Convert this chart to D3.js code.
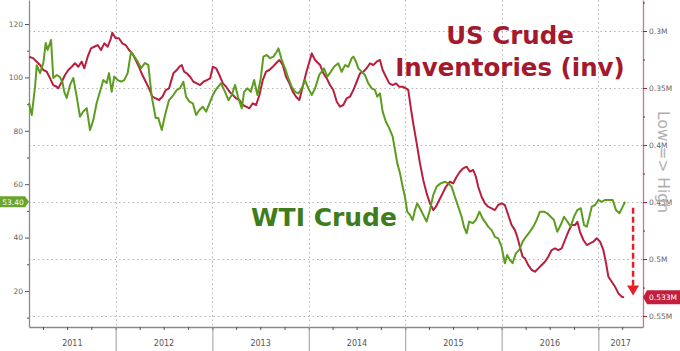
<!DOCTYPE html>
<html>
<head>
<meta charset="utf-8">
<script src="https://cdn.jsdelivr.net/npm/d3@7"></script>
<style>
  body { margin: 0; background: #fff; }
  svg { display: block; }
  text { font-family: "DejaVu Sans", sans-serif; }
</style>
</head>
<body>
<div id="chart"></div>
<script>
// WTI crude price (left axis), time as fractional year
var wtiTimes = [
  2011.102, 2011.130, 2011.164, 2011.182, 2011.216, 2011.250, 2011.275, 2011.295, 2011.330, 2011.353,
  2011.389, 2011.423, 2011.447, 2011.467, 2011.492, 2011.527, 2011.561, 2011.596, 2011.630, 2011.664,
  2011.700, 2011.734, 2011.768, 2011.803, 2011.837, 2011.872, 2011.907, 2011.931, 2011.959, 2011.985,
  2012.021, 2012.055, 2012.089, 2012.124, 2012.159, 2012.193, 2012.228, 2012.262, 2012.304, 2012.338,
  2012.373, 2012.414, 2012.441, 2012.477, 2012.511, 2012.552, 2012.597, 2012.632, 2012.666, 2012.700,
  2012.728, 2012.763, 2012.798, 2012.832, 2012.866, 2012.901, 2012.936, 2012.970,
  2013.005, 2013.046, 2013.088, 2013.132, 2013.167, 2013.202, 2013.236, 2013.270, 2013.305, 2013.329,
  2013.363, 2013.399, 2013.433, 2013.467, 2013.502, 2013.529, 2013.564, 2013.599, 2013.633, 2013.668,
  2013.685, 2013.720, 2013.754, 2013.788, 2013.823, 2013.858, 2013.892, 2013.927, 2013.961, 2013.995,
  2014.031, 2014.065, 2014.109, 2014.158, 2014.192, 2014.228, 2014.262, 2014.306, 2014.341, 2014.376,
  2014.410, 2014.445, 2014.462, 2014.490, 2014.513, 2014.549, 2014.583, 2014.617, 2014.652, 2014.686,
  2014.710, 2014.738, 2014.766, 2014.800, 2014.835, 2014.870, 2014.894, 2014.918, 2014.946, 2014.973,
  2014.997,
  2015.021, 2015.049, 2015.077, 2015.101, 2015.125, 2015.153, 2015.187, 2015.222, 2015.256, 2015.291,
  2015.326, 2015.367, 2015.412, 2015.446, 2015.481, 2015.515, 2015.550, 2015.585, 2015.609, 2015.637,
  2015.663, 2015.699, 2015.733, 2015.770, 2015.802, 2015.826, 2015.860, 2015.896, 2015.930, 2015.964,
  2015.999,
  2016.033, 2016.057, 2016.085, 2016.113, 2016.147, 2016.182, 2016.217, 2016.251, 2016.292, 2016.327,
  2016.362, 2016.396, 2016.437, 2016.472, 2016.507, 2016.541, 2016.575, 2016.610, 2016.645, 2016.679,
  2016.714, 2016.748, 2016.782, 2016.818, 2016.852, 2016.880, 2016.907, 2016.932, 2016.966,
  2017.000, 2017.035, 2017.069, 2017.114, 2017.149, 2017.183, 2017.218, 2017.253, 2017.277
];
var wtiPrices = [
  90.4, 85.9, 96.5, 104.6, 101.6, 105.4, 112.9, 110.3, 114.0, 99.8,
  100.9, 100.1, 98.4, 94.6, 92.3, 97.2, 99.8, 92.8, 85.3, 87.2,
  88.5, 80.3, 84.0, 90.4, 94.6, 99.0, 97.9, 101.6, 94.6, 100.3,
  99.0, 98.4, 99.0, 101.6, 109.6, 107.8, 105.9, 103.5, 105.4, 104.6,
  92.8, 84.8, 84.8, 80.3, 85.9, 91.5, 93.4, 95.3, 96.0, 98.4,
  92.8, 90.9, 90.3, 85.9, 87.8, 89.0, 87.2, 90.3,
  93.4, 95.9, 97.8, 94.6, 91.5, 93.4, 97.2, 92.2, 88.4, 94.6,
  95.9, 94.6, 99.0, 93.4, 99.7, 107.8, 108.4, 107.2, 107.8, 109.6,
  110.9, 106.5, 103.4, 99.7, 96.5, 94.6, 94.0, 95.9, 99.0, 95.9,
  93.4, 95.9, 101.0, 103.4, 100.3, 102.1, 104.0, 105.3, 102.1, 104.6,
  104.0, 107.2, 107.8, 105.9, 103.4, 102.1, 100.9, 97.8, 95.9, 95.3,
  92.8, 94.0, 87.2, 83.4, 80.9, 77.8, 72.8, 67.8, 64.1, 59.1,
  55.3,
  49.7, 48.5, 46.6, 50.3, 52.8, 51.0, 48.5, 46.0, 50.3, 56.0,
  59.1, 60.3, 60.9, 60.3, 59.1, 55.3, 51.6, 47.8, 44.1, 41.6,
  46.0, 45.4, 46.6, 49.7, 47.2, 46.0, 44.1, 42.8, 40.3, 39.7,
  36.6,
  30.4, 33.5, 31.6, 30.4, 34.1, 35.4, 38.5, 40.3, 42.2, 44.1,
  46.6, 49.7, 49.7, 49.1, 47.8, 46.6, 42.2, 44.7, 47.8, 46.0,
  44.1, 47.8, 50.3, 51.0, 44.7, 44.1, 47.8, 51.6, 52.2,
  54.1, 53.4, 54.1, 54.1, 54.1, 50.3, 49.1, 51.6, 53.4
];

// US crude inventories (right axis, inverted)
var invTimes = [
  2011.102, 2011.146, 2011.182, 2011.216, 2011.250, 2011.285, 2011.320, 2011.353, 2011.389, 2011.405,
  2011.441, 2011.475, 2011.509, 2011.545, 2011.578, 2011.613, 2011.648, 2011.675, 2011.710, 2011.744,
  2011.778, 2011.814, 2011.848, 2011.882, 2011.917, 2011.951, 2011.965,
  2012.000, 2012.034, 2012.068, 2012.104, 2012.138, 2012.172, 2012.207, 2012.241, 2012.276, 2012.311,
  2012.345, 2012.379, 2012.414, 2012.449, 2012.483, 2012.518, 2012.552, 2012.597, 2012.632, 2012.659,
  2012.684, 2012.708, 2012.736, 2012.770, 2012.804, 2012.839, 2012.873, 2012.908, 2012.943, 2012.977,
  2013.005, 2013.039, 2013.073, 2013.109, 2013.143, 2013.177, 2013.212, 2013.246, 2013.281, 2013.316,
  2013.350, 2013.384, 2013.419, 2013.454, 2013.488, 2013.523, 2013.557, 2013.591, 2013.627, 2013.661,
  2013.695, 2013.730, 2013.764, 2013.799, 2013.834, 2013.868, 2013.902, 2013.937, 2013.972,
  2014.006, 2014.031, 2014.065, 2014.099, 2014.117, 2014.151, 2014.186, 2014.220, 2014.254, 2014.290,
  2014.324, 2014.358, 2014.393, 2014.427, 2014.462, 2014.497, 2014.531, 2014.565, 2014.600, 2014.635,
  2014.669, 2014.704, 2014.738, 2014.766, 2014.800, 2014.835, 2014.870, 2014.904, 2014.938, 2014.973,
  2015.008, 2015.032, 2015.056, 2015.083, 2015.119, 2015.153, 2015.187, 2015.222, 2015.256, 2015.291,
  2015.318, 2015.353, 2015.388, 2015.422, 2015.464, 2015.498, 2015.533, 2015.567, 2015.601, 2015.637,
  2015.671, 2015.705, 2015.733, 2015.757, 2015.792, 2015.826, 2015.860, 2015.896, 2015.930, 2015.964,
  2015.999,
  2016.033, 2016.068, 2016.103, 2016.137, 2016.161, 2016.189, 2016.217, 2016.241, 2016.275, 2016.311,
  2016.345, 2016.379, 2016.414, 2016.448, 2016.482, 2016.517, 2016.551, 2016.586, 2016.621, 2016.655,
  2016.689, 2016.724, 2016.759, 2016.783, 2016.810, 2016.845, 2016.880, 2016.914, 2016.948, 2016.983,
  2017.018, 2017.052, 2017.080, 2017.104, 2017.139, 2017.173, 2017.208, 2017.243, 2017.267
];
var invLevels = [
  0.3225, 0.3240, 0.3269, 0.3298, 0.3342, 0.3357, 0.3415, 0.3474, 0.3489, 0.3503,
  0.3445, 0.3386, 0.3342, 0.3313, 0.3283, 0.3313, 0.3269, 0.3327, 0.3225, 0.3152,
  0.3138, 0.3123, 0.3167, 0.3108, 0.3138, 0.3064, 0.3015,
  0.3064, 0.3064, 0.3108, 0.3123, 0.3167, 0.3196, 0.3254, 0.3313, 0.3386, 0.3445,
  0.3503, 0.3576, 0.3590, 0.3605, 0.3576, 0.3518, 0.3503, 0.3371, 0.3342, 0.3313,
  0.3298, 0.3357, 0.3371, 0.3401, 0.3445, 0.3459, 0.3474, 0.3445, 0.3430, 0.3415,
  0.3313, 0.3327, 0.3386, 0.3459, 0.3489, 0.3532, 0.3561, 0.3590, 0.3605, 0.3649,
  0.3664, 0.3678, 0.3634, 0.3649, 0.3561, 0.3430, 0.3357, 0.3342, 0.3313, 0.3283,
  0.3254, 0.3298, 0.3401, 0.3459, 0.3532, 0.3576, 0.3605, 0.3489, 0.3371,
  0.3269, 0.3196, 0.3254, 0.3283, 0.3298, 0.3371, 0.3415, 0.3474, 0.3518, 0.3620,
  0.3664, 0.3649, 0.3590, 0.3576, 0.3518, 0.3445, 0.3371, 0.3357, 0.3327, 0.3283,
  0.3298, 0.3269, 0.3254, 0.3342, 0.3401, 0.3459, 0.3474, 0.3459, 0.3489, 0.3489,
  0.3503, 0.3518, 0.3664, 0.3810, 0.3985, 0.4161, 0.4307, 0.4424, 0.4511, 0.4570,
  0.4541, 0.4482, 0.4424, 0.4366, 0.4322, 0.4336, 0.4278, 0.4234, 0.4204, 0.4190,
  0.4234, 0.4219, 0.4278, 0.4366, 0.4454, 0.4511, 0.4541, 0.4555, 0.4570, 0.4526,
  0.4511,
  0.4526, 0.4614, 0.4702, 0.4746, 0.4804, 0.4892, 0.4980, 0.4994, 0.5053, 0.5096,
  0.5111, 0.5082, 0.5053, 0.5024, 0.4980, 0.4921, 0.4906, 0.4921, 0.4906, 0.4833,
  0.4761, 0.4702, 0.4702, 0.4673, 0.4761, 0.4833, 0.4877, 0.4862, 0.4848, 0.4818,
  0.4848, 0.4921, 0.5038, 0.5155, 0.5199, 0.5243, 0.5301, 0.5331, 0.5336
];

var years = [2011, 2012, 2013, 2014, 2015, 2016, 2017];
var wtiTicks = [20, 40, 60, 80, 100, 120];
var wtiMinorTicks = [10, 30, 50, 70, 90, 110];
var invTicks = [0.3, 0.35, 0.4, 0.45, 0.5, 0.55];
var invMinorTicks = [0.275, 0.325, 0.375, 0.425, 0.475, 0.525];
var wtiLastLabel = "53.40";
var invLastLabel = "0.533M";
var arrowRange = [0.455, 0.532];   // dashed arrow, in inventory units
var arrowTime = 2017.36;

var width = 680, height = 351;
var plot = { left: 29, right: 643, top: 0, bottom: 327 };
var gridColor = "#b4b4b4", green = "#5c9c1f", red = "#b81f3e";

function toDate(t) {
  var y = Math.floor(t);
  var a = new Date(y, 0, 1), b = new Date(y + 1, 0, 1);
  return new Date(+a + (t - y) * (b - a));
}

var wti = wtiTimes.map(function (t, i) { return { date: toDate(t), value: wtiPrices[i] }; });
var inv = invTimes.map(function (t, i) { return { date: toDate(t), value: invLevels[i] }; });

var x = d3.scaleTime()
  .domain([new Date(2011, 1, 7), new Date(2017, 5, 19)])
  .range([plot.left, plot.right]);
var yL = d3.scaleLinear().domain([6.5, 129]).range([plot.bottom, plot.top]);
var yR = d3.scaleLinear().domain([0.2728, 0.5596]).range([plot.top, plot.bottom]);

var svg = d3.select("#chart").append("svg")
  .attr("width", width)
  .attr("height", height);

svg.append("rect").attr("width", width).attr("height", height).attr("fill", "#fff");

// dotted grid
svg.append("g").selectAll("line")
  .data(invTicks)
  .enter().append("line")
  .attr("x1", plot.left).attr("x2", plot.right)
  .attr("y1", function (d) { return Math.round(yR(d)) + 0.5; })
  .attr("y2", function (d) { return Math.round(yR(d)) + 0.5; })
  .attr("stroke", gridColor)
  .attr("stroke-dasharray", "1.5,3");

svg.append("g").selectAll("line")
  .data(years.slice(1))
  .enter().append("line")
  .attr("x1", function (d) { return Math.round(x(new Date(d, 0, 1))) + 0.5; })
  .attr("x2", function (d) { return Math.round(x(new Date(d, 0, 1))) + 0.5; })
  .attr("y1", plot.top).attr("y2", plot.bottom)
  .attr("stroke", gridColor)
  .attr("stroke-dasharray", "1.5,3");

// left axis (WTI)
svg.append("g")
  .attr("transform", "translate(" + plot.left + ",0)")
  .call(d3.axisLeft(yL).tickValues(wtiTicks).tickSize(4).tickSizeOuter(0).tickPadding(2));
svg.append("g")
  .attr("transform", "translate(" + plot.left + ",0)")
  .call(d3.axisLeft(yL).tickValues(wtiMinorTicks).tickSize(2).tickSizeOuter(0).tickFormat(""))
  .select(".domain").remove();

// right axis (inventories, inverted)
svg.append("g")
  .attr("transform", "translate(" + plot.right + ",0)")
  .call(d3.axisRight(yR).tickValues(invTicks).tickSize(4).tickSizeOuter(0).tickPadding(2)
    .tickFormat(function (d) { return d + "M"; }))
  .call(function (g) {
    g.select(".domain").attr("stroke", "#c4788a").attr("stroke-width", 1.3);
    g.selectAll(".tick line").attr("stroke", "#a0203a");
  });
svg.append("g")
  .attr("transform", "translate(" + plot.right + ",0)")
  .call(d3.axisRight(yR).tickValues(invMinorTicks).tickSize(2).tickSizeOuter(0).tickFormat(""))
  .call(function (g) {
    g.select(".domain").remove();
    g.selectAll(".tick line").attr("stroke", "#a0203a");
  });

// bottom axis: quarterly ticks, year separators, year labels
svg.append("g")
  .attr("transform", "translate(0," + plot.bottom + ")")
  .call(d3.axisBottom(x).ticks(d3.timeMonth.every(3)).tickSize(3).tickSizeOuter(0).tickFormat(""));
svg.append("g")
  .attr("transform", "translate(0," + plot.bottom + ")")
  .call(d3.axisBottom(x).tickValues(years.slice(1).map(function (y) { return new Date(y, 0, 1); }))
    .tickSize(height - plot.bottom).tickSizeOuter(0).tickFormat(""))
  .call(function (g) {
    g.select(".domain").remove();
    g.selectAll(".tick line").attr("stroke", "#9a9a9a");
  });

svg.append("g").selectAll("text")
  .data(years)
  .enter().append("text")
  .attr("x", function (d) {
    var a = Math.max(x(new Date(d, 0, 1)), plot.left);
    var b = Math.min(x(new Date(d + 1, 0, 1)), plot.right);
    return (a + b) / 2;
  })
  .attr("y", 346)
  .attr("text-anchor", "middle")
  .attr("font-size", 8)
  .attr("fill", "#555")
  .text(function (d) { return d; });

svg.selectAll(".domain").filter(function () { return !this.getAttribute("stroke") || this.getAttribute("stroke") === "currentColor"; })
  .attr("stroke", "#8a8a8a").attr("stroke-width", 1.3);
svg.selectAll(".tick text").attr("font-size", 7.5).attr("fill", "#666")
  .attr("font-family", "DejaVu Sans, sans-serif");
svg.selectAll(".tick line").filter(function () { return this.getAttribute("stroke") === "currentColor"; })
  .attr("stroke", "#555");

// lines
var lineInv = d3.line()
  .x(function (d) { return x(d.date); })
  .y(function (d) { return yR(d.value); });
var lineWti = d3.line()
  .x(function (d) { return x(d.date); })
  .y(function (d) { return yL(d.value); });

svg.append("path").datum(inv)
  .attr("fill", "none").attr("stroke", red).attr("stroke-width", 2)
  .attr("stroke-linejoin", "round")
  .attr("d", lineInv);
svg.append("path").datum(wti)
  .attr("fill", "none").attr("stroke", green).attr("stroke-width", 2)
  .attr("stroke-linejoin", "round")
  .attr("d", lineWti);

// last-value labels
var wy = yL(wti[wti.length - 1].value);
svg.append("path")
  .attr("d", "M0," + (wy - 5.5) + "H25L29," + wy + "L25," + (wy + 5.5) + "H0Z")
  .attr("fill", "#6aa52a");
svg.append("text")
  .attr("x", 13).attr("y", wy + 2.7)
  .attr("text-anchor", "middle").attr("font-size", 7.5).attr("fill", "#fff")
  .text(wtiLastLabel);

var iy = yR(inv[inv.length - 1].value);
svg.append("path")
  .attr("d", "M643," + iy + "L647," + (iy - 7) + "H680V" + (iy + 7) + "H647Z")
  .attr("fill", "#c21f3d");
svg.append("text")
  .attr("x", 663).attr("y", iy + 2.7)
  .attr("text-anchor", "middle").attr("font-size", 7.5).attr("fill", "#fff")
  .text(invLastLabel);

// dashed arrow
var ax = x(toDate(arrowTime));
var ay0 = yR(arrowRange[0]), ay1 = yR(arrowRange[1]);
svg.append("line")
  .attr("x1", ax).attr("x2", ax)
  .attr("y1", ay0).attr("y2", ay1 - 9)
  .attr("stroke", "#e4202a").attr("stroke-width", 2.5)
  .attr("stroke-dasharray", "6,3");
svg.append("path")
  .attr("d", "M" + (ax - 6) + "," + (ay1 - 10) + "L" + (ax + 6) + "," + (ay1 - 10) + "L" + ax + "," + ay1 + "Z")
  .attr("fill", "#e4202a");

// annotations
svg.append("text")
  .attr("x", 510).attr("y", 44)
  .attr("text-anchor", "middle").attr("font-size", 24.5).attr("font-weight", "bold")
  .attr("fill", "#a3192e")
  .text("US Crude");
svg.append("text")
  .attr("x", 510).attr("y", 76)
  .attr("text-anchor", "middle").attr("font-size", 24.5).attr("font-weight", "bold")
  .attr("fill", "#a3192e")
  .text("Inventories (inv)");
svg.append("text")
  .attr("x", 251).attr("y", 226)
  .attr("font-size", 25).attr("font-weight", "bold")
  .attr("fill", "#3f7d1c")
  .text("WTI Crude");

svg.append("text")
  .attr("transform", "translate(658,162) rotate(90)")
  .attr("text-anchor", "middle")
  .attr("font-size", 15.5)
  .attr("fill", "#b0b0b0")
  .text("Low => High");
</script>
</body>
</html>
